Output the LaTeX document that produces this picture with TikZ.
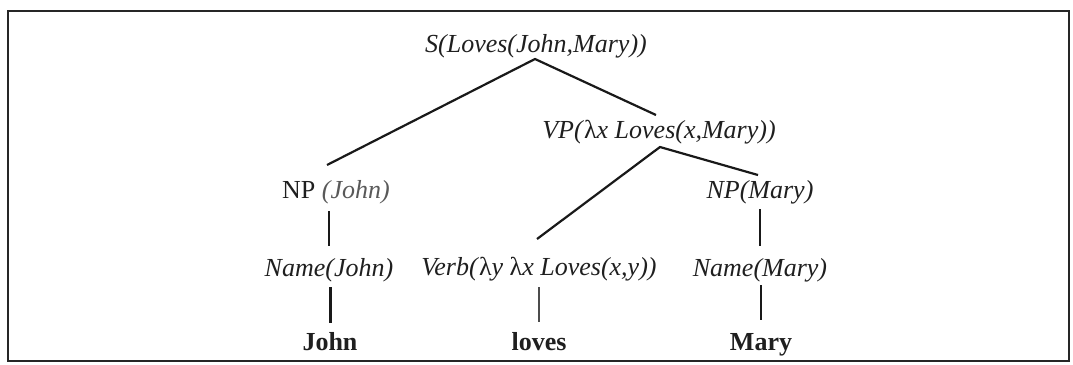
\documentclass[tikz,border=0pt]{standalone}
\usepackage{fontspec}
\setmainfont{Liberation Serif}
\usetikzlibrary{calc}
\tikzset{
  lbl/.style={inner sep=0pt, anchor=base, font=\fontsize{26bp}{30bp}\selectfont\itshape, text=black!88},
  wrd/.style={inner sep=0pt, anchor=base, font=\fontsize{26bp}{30bp}\selectfont\bfseries, text=black!88},
  branch/.style={line width=2.2bp, black!90, line join=miter},
  stem/.style={line width=2bp, black!90},
  thickstem/.style={line width=3bp, black!90},
  frame/.style={line width=2bp, black!85}
}
\begin{document}
\begin{tikzpicture}[x=1bp,y=-1bp]
\useasboundingbox (0,0) rectangle (1073,364);
\draw[frame] (8,11) rectangle (1069,361);
\node[lbl] (S) at (536,52) {S(Loves(John,Mary))};
\node[lbl] (VP) at (659,138) {VP(\textup{λ}x Loves(x,Mary))};
\node[lbl] (npj) at (336,198) {\textup{NP} {\color{black!65}(John)}};
\node[lbl] (npm) at (760,198) {NP(Mary)};
\node[lbl] (namej) at (329,276) {Name(John)};
\node[lbl] (verb) at (539,275) {Verb(\textup{λ}y \textup{λ}x Loves(x,y))};
\node[lbl] (namem) at (760,276) {Name(Mary)};
\node[wrd] (john) at (330,350) {John};
\node[wrd] (loves) at (539,350) {loves};
\node[wrd] (mary) at (761,350) {Mary};
\draw[branch] ($(npj.base)+(-9,-33)$) -- ($(S.base)+(-1,7)$) -- ($(VP.base)+(-3,-23)$);
\draw[branch] ($(verb.base)+(-2,-36)$) -- ($(VP.base)+(1,9)$) -- ($(npm.base)+(-2,-23)$);
\draw[stem] ($(namej.base |- npj.base)+(0,13)$) -- ($(namej.base)+(0,-30)$);
\draw[thickstem] ($(john.base |- namej.base)+(0,11)$) -- ($(john.base)+(0,-27)$);
\draw[stem, black!70] ($(loves.base |- verb.base)+(0,12)$) -- ($(loves.base)+(0,-28)$);
\draw[stem] ($(namem.base |- npm.base)+(0,11)$) -- ($(namem.base)+(0,-30)$);
\draw[stem] ($(mary.base |- namem.base)+(0,9)$) -- ($(mary.base)+(0,-30)$);
\end{tikzpicture}
\end{document}
